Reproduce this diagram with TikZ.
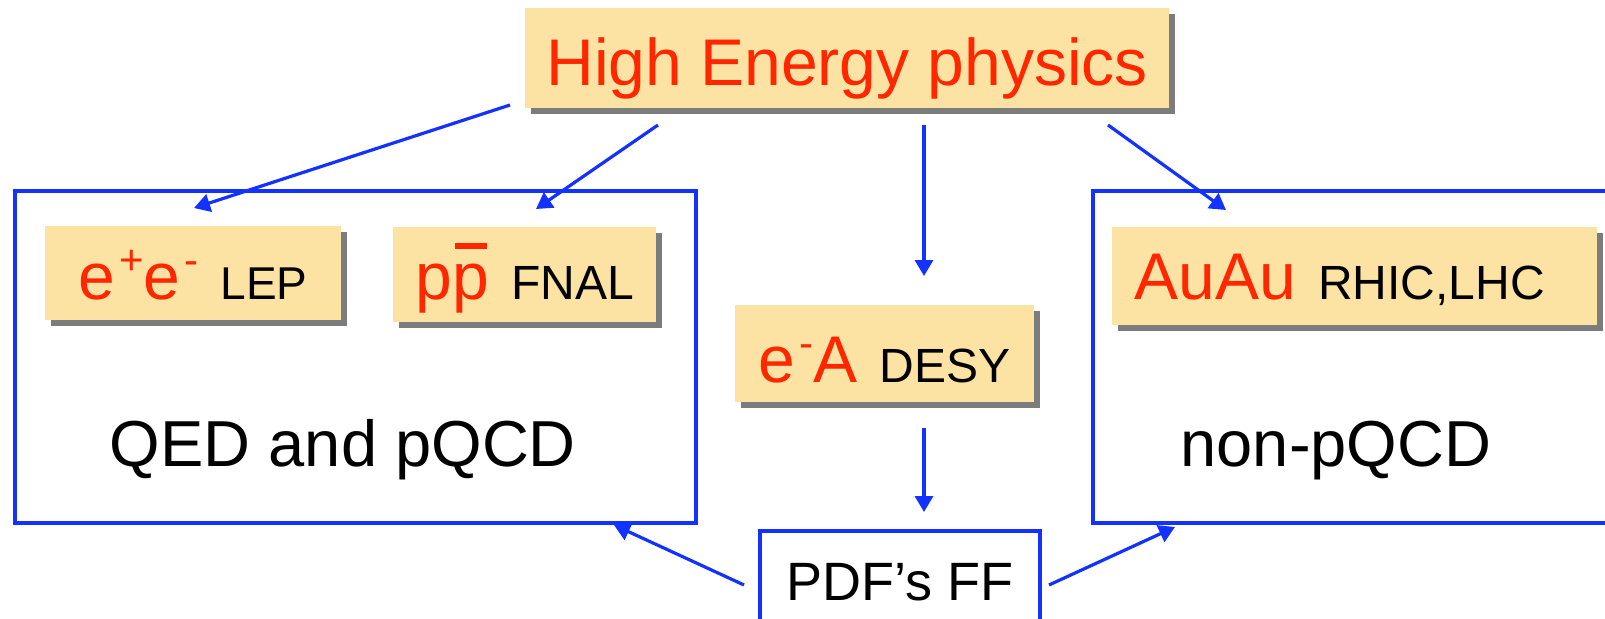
\documentclass[tikz,border=0pt]{standalone}
\usepackage{fontspec}
\setmainfont{Liberation Sans}
\usetikzlibrary{arrows.meta,shadows}
\definecolor{boxfill}{RGB}{253,227,163}
\definecolor{hred}{RGB}{255,38,0}
\definecolor{hblue}{RGB}{20,50,255}
\newcommand\RedTxt[1]{{\color{hred}\fontsize{66}{70}\selectfont #1}}
\newcommand\BlkTxt[1]{{\color{black}\fontsize{48}{52}\selectfont #1}}
\newcommand\SupTxt[1]{\hspace{4pt}\raisebox{25pt}{\fontsize{42}{44}\selectfont #1}}
\newcommand\Gap{\hspace{22pt}}
\newcommand\PBar{\makebox[0pt][l]{\hspace{0.04em}\raisebox{0.76em}{\rule{0.48em}{0.085em}}}p}
\begin{document}
\begin{tikzpicture}[x=1pt,y=-1pt,
  tan/.style={fill=boxfill, inner sep=0pt, anchor=north west,
    drop shadow={shadow xshift=6pt, shadow yshift=-6pt, fill=black!60, opacity=0.85}},
  frame/.style={draw=hblue, line width=3.5pt, inner sep=0pt, anchor=north west},
  arr/.style={hblue, line width=3.2pt, -{Triangle[length=16pt,width=18pt]}},
  bigtext/.style={anchor=base, font=\fontsize{65}{70}\selectfont}]
\useasboundingbox (0,0) rectangle (1605,618);
\clip (0,0) rectangle (1605,618);
\fill[white] (0,0) rectangle (1605,618);

% frames
\node[frame, minimum width=681pt, minimum height=332pt] (lframe) at (13,189) {};
\node[frame, minimum width=560pt, minimum height=332pt] (rframe) at (1091,189) {};
\node[frame, minimum width=280pt, text height=70pt, text depth=50pt,
      font=\fontsize{54}{60}\selectfont] (pdf) at (758,529) {PDF’s FF};

% tan boxes
\node[tan, minimum width=644pt, text height=77pt, text depth=23pt] (hep) at (525,8)
  {\RedTxt{High Energy physics}};
\node[tan, minimum width=296pt, text height=73pt, text depth=21pt] (ee) at (45,226)
  {\RedTxt{e\SupTxt{+}e\SupTxt{-}}\Gap\BlkTxt{\fontsize{46}{50}\selectfont LEP}};
\node[tan, minimum width=263pt, text height=72pt, text depth=23pt] (pp) at (393,227)
  {\RedTxt{p\PBar}\Gap\BlkTxt{FNAL}};
\node[tan, minimum width=299pt, text height=77pt, text depth=20pt] (ea) at (735,305)
  {\RedTxt{e\SupTxt{-}A}\Gap\BlkTxt{DESY}};
\node[tan, minimum width=485pt, text height=72pt, text depth=26pt] (au) at (1112,227)
  {\hspace{-30pt}\RedTxt{AuAu}\Gap\BlkTxt{RHIC,LHC}};

% texts in frames
\node[bigtext] (qed) at (343,466) {QED and pQCD};
\node[bigtext] (npq) at (1336,466) {non-pQCD};

% arrow end points
\coordinate (a1s) at (510,105);  \coordinate (a1e) at (194,208);
\coordinate (a2s) at (658,125);  \coordinate (a2e) at (536,209);
\coordinate (a3s) at (924,125);  \coordinate (a3e) at (924,276);
\coordinate (a4s) at (1108,125); \coordinate (a4e) at (1226,210);
\coordinate (a5s) at (924,428);  \coordinate (a5e) at (924,512);
\coordinate (a6s) at (744,585);  \coordinate (a6e) at (614,525);
\coordinate (a7s) at (1049,585); \coordinate (a7e) at (1175,527);

\draw[arr] (a1s) -- (a1e);
\draw[arr] (a2s) -- (a2e);
\draw[arr] (a3s) -- (a3e);
\draw[arr] (a4s) -- (a4e);
\draw[arr] (a5s) -- (a5e);
\draw[arr] (a6s) -- (a6e);
\draw[arr] (a7s) -- (a7e);
\end{tikzpicture}
\end{document}
